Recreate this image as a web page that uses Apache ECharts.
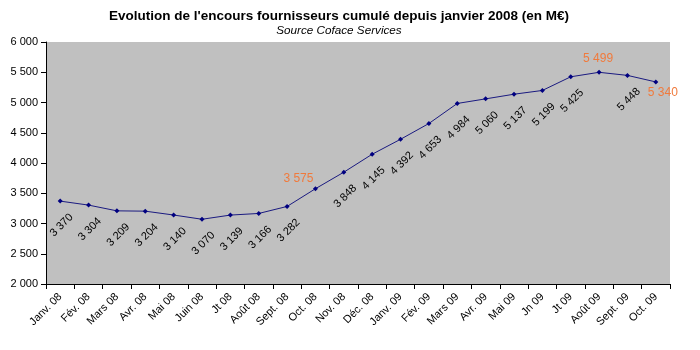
<!DOCTYPE html>
<html>
<head>
<meta charset="utf-8">
<script src="https://cdn.jsdelivr.net/npm/echarts@6/dist/echarts.min.js"></script>
<style>
html,body{margin:0;padding:0;background:#fff;}
#chart{width:700px;height:350px;}
</style>
</head>
<body>
<div id="chart"></div>
<script>
var titleText = "Evolution de l'encours fournisseurs cumulé depuis janvier 2008 (en M€)";
var subtitleText = "Source Coface Services";
var categories = ["Janv. 08","Fév. 08","Mars 08","Avr. 08","Mai 08","Juin 08","Jt 08","Août 08","Sept. 08","Oct. 08","Nov. 08","Déc. 08",
  "Janv. 09","Fév. 09","Mars 09","Avr. 09","Mai 09","Jn 09","Jt 09","Août 09","Sept. 09","Oct. 09"];
var encours = [3370,3304,3209,3204,3140,3070,3139,3166,3282,3575,3848,4145,
  4392,4653,4984,5060,5137,5199,5425,5499,5448,5340];
var yTicks = [2000,2500,3000,3500,4000,4500,5000,5500,6000];

var FONT = "'Liberation Sans', Arial, sans-serif";
function fmt(v){ return String(v).replace(/\B(?=(\d{3})+(?!\d))/g, ' '); }

// highlighted (orange) labels: index -> offset
var highlight = {9: [-17, -10], 19: [-1, -14], 21: [7, 11]};

var data = encours.map(function(v, i){
  if (highlight[i]) {
    return {value: v, label: {color: '#F07A3C', fontSize: 12, rotate: 0, offset: highlight[i]}};
  }
  return v;
});

var chart = echarts.init(document.getElementById('chart'), null, {renderer:'canvas'});
chart.setOption({
  animation: false,
  backgroundColor: '#ffffff',
  graphic: [
    {type:'text', x: 339, y: 16.5, style:{text: titleText, font: "bold 13.5px " + FONT, fill:'#000', textAlign:'center', textVerticalAlign:'middle'}},
    {type:'text', x: 339, y: 31, style:{text: subtitleText, font: "italic 11.7px " + FONT, fill:'#000', textAlign:'center', textVerticalAlign:'middle'}}
  ],
  grid: {left: 46, right: 30, top: 42, bottom: 66, show: true, backgroundColor: '#C0C0C0', borderWidth: 0, containLabel: false},
  xAxis: {
    type: 'category',
    data: categories,
    boundaryGap: true,
    axisLine: {show: true, lineStyle: {color: '#000', width: 1}},
    axisTick: {show: true, length: 5, interval: 0, lineStyle: {color:'#000'}},
    axisLabel: {interval: 0, rotate: 45, margin: 11, fontFamily: FONT, fontSize: 11, color: '#000'},
    splitLine: {show: false}
  },
  yAxis: {
    type: 'value',
    min: yTicks[0], max: yTicks[yTicks.length-1], interval: 500,
    axisLine: {show: true, lineStyle: {color: '#000', width: 1}},
    axisTick: {show: true, length: 5, lineStyle: {color:'#000'}},
    axisLabel: {fontFamily: FONT, fontSize: 11, color: '#000', margin: 8, formatter: function(v){ return fmt(v); }},
    splitLine: {show: false}
  },
  series: [{
    type: 'line',
    data: data,
    symbol: 'diamond',
    symbolSize: 5,
    itemStyle: {color: '#000080'},
    lineStyle: {color: '#1a1a80', width: 1},
    label: {
      show: true,
      position: 'inside',
      rotate: 45,
      align: 'center',
      verticalAlign: 'middle',
      offset: [-16, 18],
      fontFamily: FONT,
      fontSize: 11,
      color: '#000',
      formatter: function(p){ return fmt(p.value); }
    }
  }]
});
</script>
</body>
</html>
